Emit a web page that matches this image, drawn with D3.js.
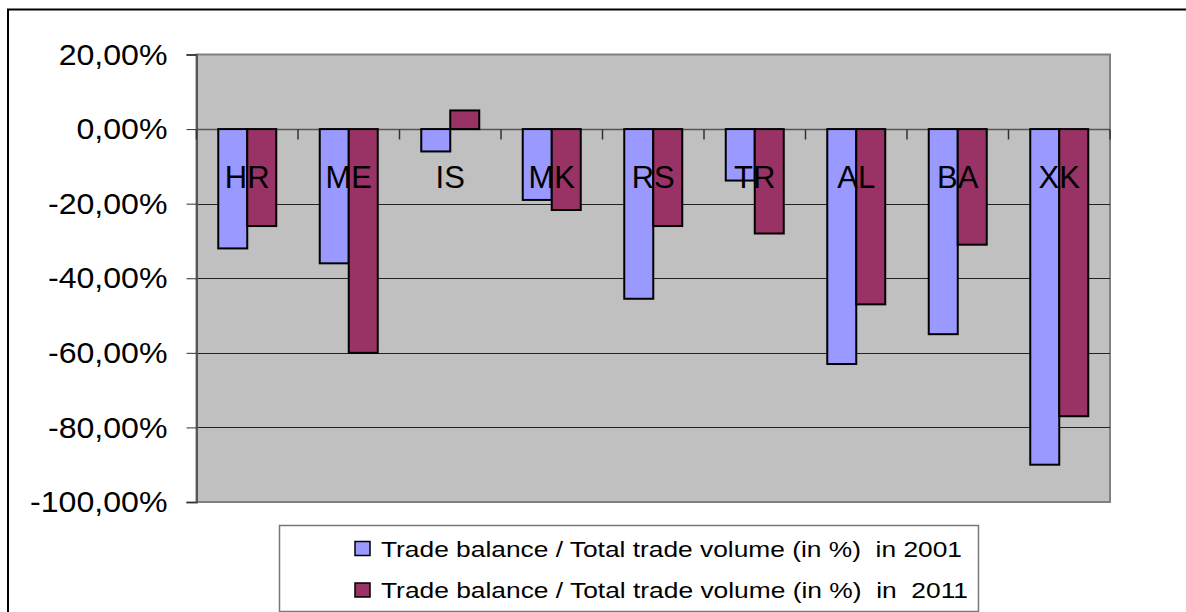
<!DOCTYPE html>
<html>
<head>
<meta charset="utf-8">
<script src="https://cdn.jsdelivr.net/npm/d3@7"></script>
<style>
  body { margin: 0; background: #fff; }
  svg { display: block; font-family: "Liberation Sans", Arial, sans-serif; }
</style>
</head>
<body>
<div id="chart"></div>
<script>
// data
var countries = ["HR", "ME", "IS", "MK", "RS", "TR", "AL", "BA", "XK"];
var ratio2001 = [-0.32, -0.36, -0.06, -0.19, -0.455, -0.138, -0.63, -0.55, -0.90];
var ratio2011 = [-0.26, -0.60, 0.05, -0.217, -0.26, -0.28, -0.47, -0.31, -0.77];
var seriesNames = ["Trade balance / Total trade volume (in %)  in 2001",
                   "Trade balance / Total trade volume (in %)  in  2011"];
var yTicks = [0.2, 0, -0.2, -0.4, -0.6, -0.8, -1.0];

var colors = ["#9999ff", "#993366"];

var width = 1186,
    height = 612;
var plot = {left: 196.5, top: 54.5, right: 1110, bottom: 502};

var svg = d3.select("#chart").append("svg")
    .attr("width", width)
    .attr("height", height);

// chart border (right / bottom edges fall outside the picture)
svg.append("rect")
    .attr("x", 8).attr("y", 9.5)
    .attr("width", 1200).attr("height", 700)
    .attr("fill", "none")
    .attr("stroke", "#000")
    .attr("stroke-width", 2);

var yScale = d3.scaleLinear()
    .domain([-1, 0.2])
    .range([plot.bottom, plot.top]);

var gap = 1.5 / 3.5;
var x0 = d3.scaleBand()
    .domain(countries)
    .range([plot.left, plot.right])
    .paddingInner(gap)
    .paddingOuter(gap / 2);
var x1 = d3.scaleBand()
    .domain([0, 1])
    .range([0, x0.bandwidth()]);

var fmt = function(v) {
    var s = (Math.abs(v) < 1e-9 ? 0 : v * 100).toFixed(2).replace(".", ",");
    return s + "%";
};

// plot background
svg.append("rect")
    .attr("x", plot.left).attr("y", plot.top)
    .attr("width", plot.right - plot.left)
    .attr("height", plot.bottom - plot.top)
    .attr("fill", "#c0c0c0")
    .attr("stroke", "#808080")
    .attr("stroke-width", 2);

// gridlines
svg.append("g").selectAll("line")
    .data(yTicks.filter(function(d) { return d < 0.2 && d > -1; }))
    .enter().append("line")
    .attr("x1", plot.left).attr("x2", plot.right)
    .attr("y1", function(d) { return Math.round(yScale(d)) + 0.5; })
    .attr("y2", function(d) { return Math.round(yScale(d)) + 0.5; })
    .attr("stroke", "#222")
    .attr("stroke-width", 1);

// y axis
var yAxis = d3.axisLeft(yScale)
    .tickValues(yTicks)
    .tickFormat(fmt)
    .tickSize(10)
    .tickPadding(19);
var yg = svg.append("g")
    .attr("transform", "translate(" + plot.left + ",0)")
    .call(yAxis);
yg.select(".domain").attr("stroke", "#555").attr("stroke-width", 2);
yg.selectAll(".tick line").attr("stroke", "#333");
yg.selectAll("text")
    .attr("font-size", 30)
    .attr("fill", "#000")
    .attr("font-family", "Liberation Sans, Arial, sans-serif")
    .each(function() {
        // the original labels are a little wider than the font
        var w = this.getComputedTextLength();
        d3.select(this)
            .attr("textLength", w * 1.07)
            .attr("lengthAdjust", "spacingAndGlyphs");
    });

// x axis at zero with category ticks pointing down
var bounds = d3.range(countries.length + 1).map(function(i) {
    return plot.left + i * x0.step();
});
var y0 = Math.round(yScale(0)) + 0.5;
svg.append("line")
    .attr("x1", plot.left).attr("x2", plot.right)
    .attr("y1", y0).attr("y2", y0)
    .attr("stroke", "#555").attr("stroke-width", 1.5);
svg.append("g").selectAll("line")
    .data(bounds)
    .enter().append("line")
    .attr("x1", function(d) { return d; })
    .attr("x2", function(d) { return d; })
    .attr("y1", y0).attr("y2", y0 + 10)
    .attr("stroke", "#333").attr("stroke-width", 1.5);

// bars
var rows = countries.map(function(c, i) {
    return {country: c, values: [ratio2001[i], ratio2011[i]]};
});
var groups = svg.append("g").selectAll("g")
    .data(rows)
    .enter().append("g")
    .attr("transform", function(d) { return "translate(" + x0(d.country) + ",0)"; });
groups.selectAll("rect")
    .data(function(d) { return d.values.map(function(v, k) { return {k: k, v: v}; }); })
    .enter().append("rect")
    .attr("x", function(d) { return x1(d.k); })
    .attr("width", x1.bandwidth())
    .attr("y", function(d) { return yScale(Math.max(0, d.v)); })
    .attr("height", function(d) { return Math.abs(yScale(d.v) - yScale(0)); })
    .attr("fill", function(d) { return colors[d.k]; })
    .attr("stroke", "#000")
    .attr("stroke-width", 2);

// category labels (sit just under the zero line)
svg.append("g").selectAll("text")
    .data(countries)
    .enter().append("text")
    .attr("x", function(d) { return x0(d) + x0.bandwidth() / 2; })
    .attr("y", 188)
    .attr("text-anchor", "middle")
    .attr("font-size", 31)
    .attr("fill", "#000")
    .text(function(d) { return d; });

// legend
var legend = svg.append("g");
legend.append("rect")
    .attr("x", 279.5).attr("y", 525.5)
    .attr("width", 699).attr("height", 86)
    .attr("fill", "#fff")
    .attr("stroke", "#777")
    .attr("stroke-width", 1.5);
var rowY = [548.5, 590];
seriesNames.forEach(function(name, i) {
    legend.append("rect")
        .attr("x", 355).attr("y", rowY[i] - 7)
        .attr("width", 15).attr("height", 14)
        .attr("fill", colors[i])
        .attr("stroke", "#000")
        .attr("stroke-width", 1.5);
    legend.append("text")
        .attr("x", 381)
        .attr("y", rowY[i] + 8)
        .attr("font-size", 22)
        .attr("fill", "#000")
        .style("white-space", "pre")
        .attr("textLength", i === 0 ? 581 : 587)
        .attr("lengthAdjust", "spacingAndGlyphs")
        .text(name);
});
</script>
</body>
</html>
